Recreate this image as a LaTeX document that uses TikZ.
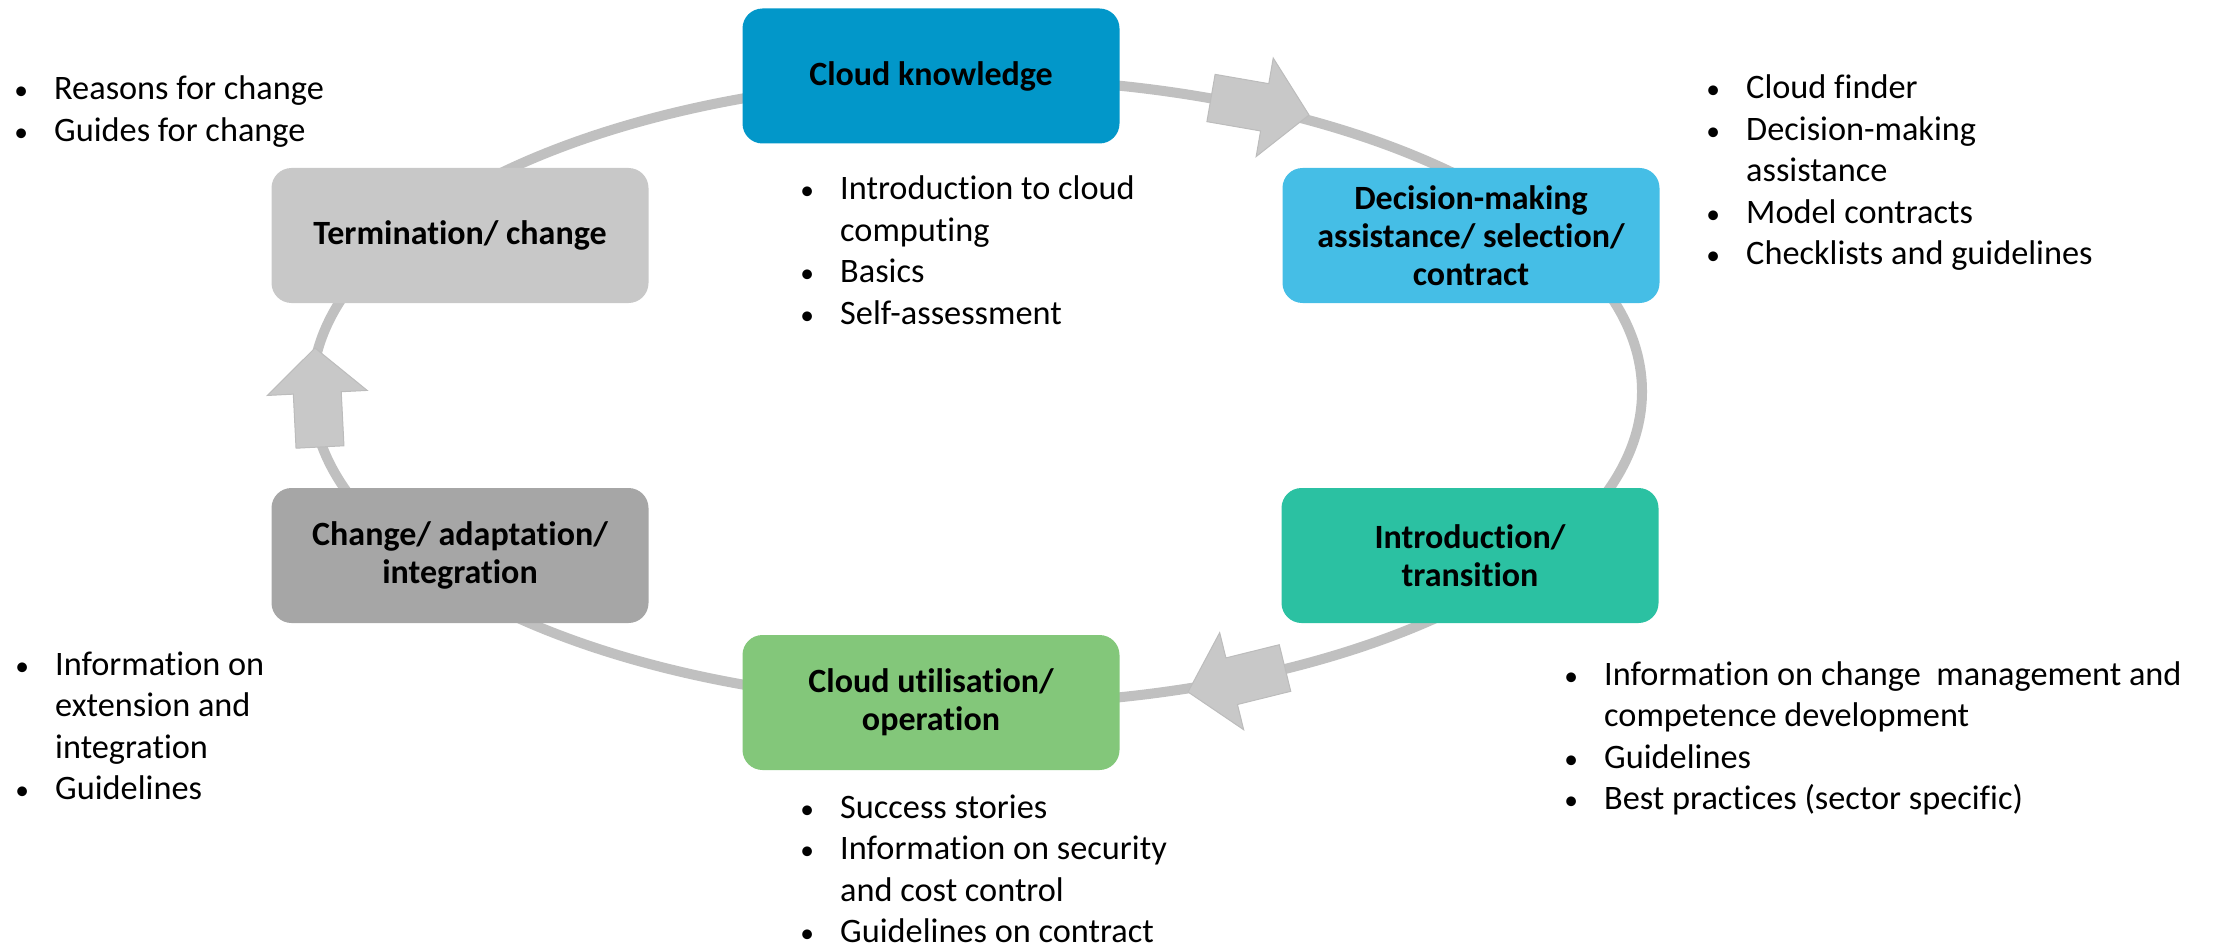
\documentclass[tikz,border=0pt]{standalone}
\usepackage{fontspec}
\setmainfont{Carlito}[Ligatures=NoCommon]
\usetikzlibrary{calc}
\definecolor{ckblue}{RGB}{2,151,201}
\definecolor{dmblue}{RGB}{69,190,230}
\definecolor{trteal}{RGB}{43,193,162}
\definecolor{opgreen}{RGB}{131,199,122}
\definecolor{adgray}{RGB}{166,166,166}
\definecolor{tmgray}{RGB}{200,200,200}
\definecolor{ringgray}{RGB}{192,192,192}
\definecolor{arrgray}{RGB}{200,200,200}
\definecolor{arrline}{RGB}{188,188,188}
\newcommand\bul{\makebox[33pt][l]{\makebox[0pt]{\scalebox{0.8}{\textbullet}}}}
\newcommand\ind{\hspace*{33pt}}
\newcommand\blockarrow[2]{%
  \coordinate (hb) at ($(#2)!45pt!(#1)$);
  \filldraw[blockarr] ($(#1)!24pt!90:(#2)$) -- ($(hb)!24pt!90:(#2)$) -- ($(hb)!50pt!90:(#2)$) -- (#2)
    -- ($(hb)!50pt!-90:(#2)$) -- ($(hb)!24pt!-90:(#2)$) -- ($(#1)!24pt!-90:(#2)$) -- cycle;}
\begin{document}
\begin{tikzpicture}[x=1pt,y=-1pt,
  phase/.style={rectangle, rounded corners=20pt, minimum width=377pt, minimum height=135pt,
    inner sep=0pt, align=center, text=black, font=\fontsize{34}{38}\selectfont\bfseries},
  ring/.style={draw=ringgray, line width=10pt},
  blockarr/.style={fill=arrgray, draw=arrline, line width=1pt, line join=miter},
  bullist/.style={anchor=base west, inner sep=0pt, font=\fontsize{34.3}{41.5}\selectfont}]
\useasboundingbox (0,0) rectangle (2215,952);
% ring
\draw[ring] (977,391.5) ellipse [x radius=665pt, y radius=313pt];
% block arrows
\coordinate (t1) at (1211,98);  \coordinate (p1) at (1309,115);
\coordinate (t2) at (1285,668); \coordinate (p2) at (1188,692);
\coordinate (t3) at (320,447);  \coordinate (p3) at (315,348);
\blockarrow{t1}{p1}
\blockarrow{t2}{p2}
\blockarrow{t3}{p3}
% phases
\node[phase, fill=ckblue]  (ck) at (931,76)    {Cloud knowledge};
\node[phase, fill=dmblue]  (dm) at (1471,235.5) {Decision-making\\assistance/ selection/\\contract};
\node[phase, fill=trteal]  (tr) at (1470,555.5) {Introduction/\\transition};
\node[phase, fill=opgreen] (op) at (931,702.5) {Cloud utilisation/\\operation};
\node[phase, fill=adgray]  (ad) at (460,555.5) {Change/ adaptation/\\integration};
\node[phase, fill=tmgray]  (tm) at (460,235.5) {Termination/ change};
% lists
\node[bullist] (ltm) at (21,100) {\begin{tabular}[t]{@{}l@{}}
  \bul Reasons for change\\
  \bul Guides for change\end{tabular}};
\node[bullist] (lck) at (807,200) {\begin{tabular}[t]{@{}l@{}}
  \bul Introduction to cloud\\
  \ind computing\\
  \bul Basics\\
  \bul Self-assessment\end{tabular}};
\node[bullist] (ldm) at (1713,99) {\begin{tabular}[t]{@{}l@{}}
  \bul Cloud finder\\
  \bul Decision-making\\
  \ind assistance\\
  \bul Model contracts\\
  \bul Checklists and guidelines\end{tabular}};
\node[bullist] (ltr) at (1571,685) {\begin{tabular}[t]{@{}l@{}}
  \bul Information on change\ \ management and\\
  \ind competence development\\
  \bul Guidelines\\
  \bul Best practices (sector specific)\end{tabular}};
\node[bullist] (lop) at (807,818) {\begin{tabular}[t]{@{}l@{}}
  \bul Success stories\\
  \bul Information on security\\
  \ind and cost control\\
  \bul Guidelines on contract\end{tabular}};
\node[bullist] (lad) at (22,675) {\begin{tabular}[t]{@{}l@{}}
  \bul Information on\\
  \ind extension and\\
  \ind integration\\
  \bul Guidelines\end{tabular}};
\end{tikzpicture}
\end{document}
